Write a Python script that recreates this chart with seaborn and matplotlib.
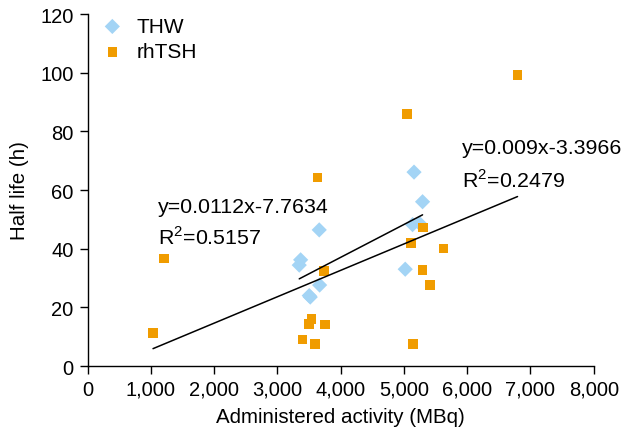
import matplotlib
matplotlib.use("Agg")
import matplotlib.pyplot as plt
import matplotlib.ticker as mticker
import seaborn as sns
import numpy as np
import pandas as pd

# THW data
thw_x = [5160, 5295, 3662, 3368, 3346, 3668, 3504, 3520, 5137, 5242, 5021]
thw_y = [66.1, 56.0, 46.4, 36.2, 34.4, 27.6, 24.0, 23.5, 48.2, 48.7, 33.0]
# rhTSH data
rh_x = [3637, 5300, 5111, 5627, 3741, 5295, 5411, 3541, 3504, 3752, 3400, 3594, 5147, 6796, 5047, 1209, 1035]
rh_y = [64.3, 47.2, 42.0, 40.1, 32.4, 32.8, 27.6, 16.0, 14.4, 14.1, 9.1, 7.4, 7.6, 99.2, 85.9, 36.6, 11.3]

# trendline coefficients
thw_fit = (0.0112, -7.7634, 0.5157)
rh_fit = (0.009, -3.3966, 0.2479)

x_ticks = [0, 1000, 2000, 3000, 4000, 5000, 6000, 7000, 8000]
y_ticks = [0, 20, 40, 60, 80, 100, 120]

sns.set_theme(style="white")
plt.rcParams['font.family'] = ['Liberation Sans', 'DejaVu Sans']
plt.rcParams['text.color'] = 'black'
plt.rcParams['mathtext.fontset'] = 'custom'
plt.rcParams['mathtext.rm'] = 'Liberation Sans'

fig = plt.figure(figsize=(6.23, 4.35), dpi=100)
ax = fig.add_axes([0.1405, 0.1563, 0.8125, 0.8092])

df = pd.concat([
    pd.DataFrame({"x": thw_x, "y": thw_y, "group": "THW"}),
    pd.DataFrame({"x": rh_x, "y": rh_y, "group": "rhTSH"}),
])

blue = "#a3d4f5"
orange = "#f09c00"

sns.scatterplot(data=df[df.group == "THW"], x="x", y="y", marker="D", s=60,
                color=blue, edgecolor="none", ax=ax, label="THW", zorder=3)
sns.scatterplot(data=df[df.group == "rhTSH"], x="x", y="y", marker="s", s=48,
                color=orange, edgecolor="none", ax=ax, label="rhTSH", zorder=3)

for xs, (m, b, r2) in [(thw_x, thw_fit), (rh_x, rh_fit)]:
    lx = np.array([min(xs), max(xs)])
    sns.lineplot(x=lx, y=m * lx + b, color="black", lw=1.1, ax=ax, zorder=4)

fs_ann = 15.4
ax.text(1118, 52.6, "y=0.0112x-7.7634", fontsize=fs_ann, va="baseline", ha="left", color="black")
ax.text(1118, 41.7, r"R$^\mathrm{2}$=0.5157", fontsize=fs_ann, va="baseline", ha="left", color="black")
ax.text(5911, 72.5, "y=0.009x-3.3966", fontsize=fs_ann, va="baseline", ha="left", color="black")
ax.text(5911, 61.1, r"R$^\mathrm{2}$=0.2479", fontsize=fs_ann, va="baseline", ha="left", color="black")

ax.set_xlim(0, 8000)
ax.set_ylim(0, 120)
ax.set_xticks(x_ticks)
ax.set_yticks(y_ticks)
ax.xaxis.set_major_formatter(mticker.FuncFormatter(lambda v, p: f"{int(v):,}"))
ax.tick_params(axis="both", direction="out", length=6, width=1, color="black",
               labelsize=14.5, labelcolor="black", bottom=True, left=True, pad=4)
ax.set_xlabel("Administered activity (MBq)", fontsize=14.8, color="black", labelpad=6)
ax.set_ylabel("Half life (h)", fontsize=14.8, color="black", labelpad=8)
for s in ["top", "right"]:
    ax.spines[s].set_visible(False)
for s in ["left", "bottom"]:
    ax.spines[s].set_color("black")
    ax.spines[s].set_linewidth(1)

ax.legend(loc="upper left", bbox_to_anchor=(-0.021, 1.045), frameon=False,
          fontsize=15, handletextpad=0.35, labelspacing=0.3, handlelength=1.6)

fig.savefig("out.png", dpi=100)
